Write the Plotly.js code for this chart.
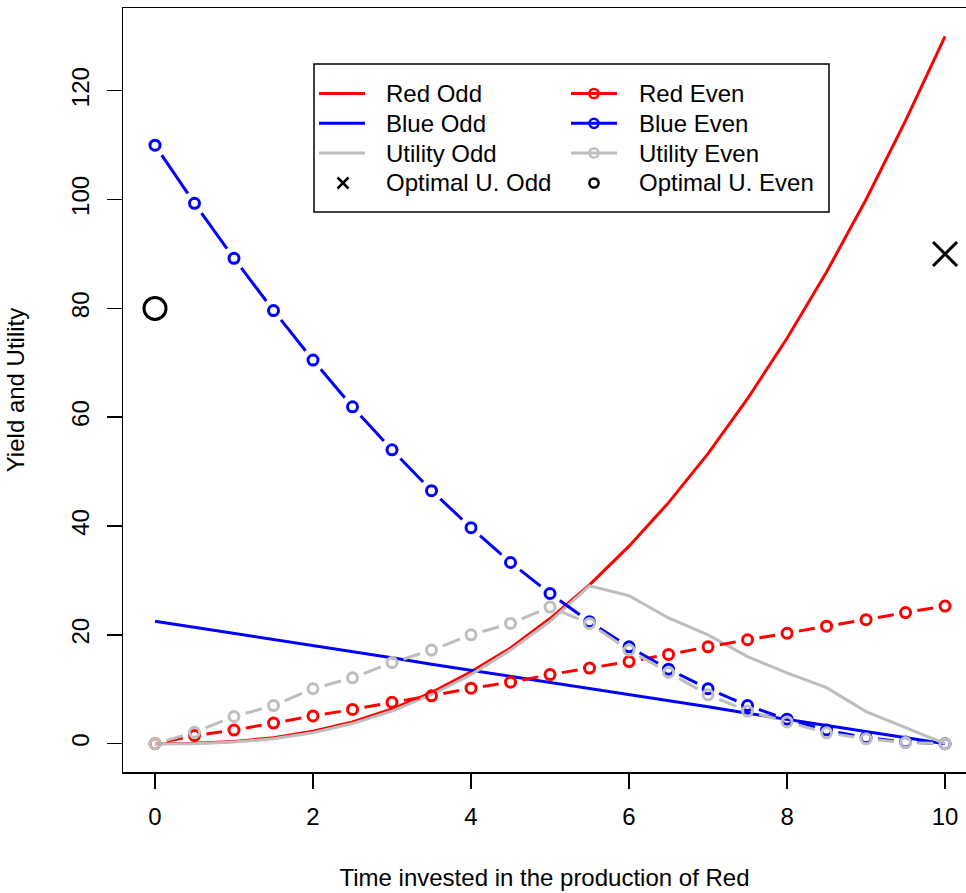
<!DOCTYPE html>
<html>
<head>
<meta charset="utf-8">
<script src="https://cdn.plot.ly/plotly-3.0.1.min.js"></script>
<style>
  html, body { margin: 0; padding: 0; background: #ffffff; overflow: hidden; }
  #chart { width: 966px; height: 893px; }
</style>
</head>
<body>
<div id="chart"></div>
<script>
// Time invested in Red (x), one value every half unit
const timeRed = [0, 0.5, 1, 1.5, 2, 2.5, 3, 3.5, 4, 4.5, 5, 5.5, 6, 6.5, 7, 7.5, 8, 8.5, 9, 9.5, 10];

// "Odd" scenario yields and utility
const redOdd     = [0, 0.1, 0.4, 1.1, 2.3, 4.0, 6.4, 9.4, 13.2, 17.6, 23.0, 29.2, 36.3, 44.3, 53.3, 63.4, 74.5, 86.7, 100.0, 114.5, 130.0];
const blueOdd    = [22.5, 21.4, 20.3, 19.1, 18.0, 16.9, 15.8, 14.6, 13.5, 12.4, 11.3, 10.1, 9.0, 7.9, 6.8, 5.6, 4.5, 3.4, 2.3, 1.1, 0];
const utilityOdd = [0, 0, 0.3, 0.9, 2.0, 3.7, 6.0, 9.0, 12.7, 17.2, 22.5, 29.0, 27.2, 23.1, 20.0, 16.0, 13.0, 10.3, 5.9, 3.0, 0];

// "Even" scenario yields and utility
const redEven     = [0, 1.5, 2.5, 3.8, 5.1, 6.3, 7.6, 8.8, 10.2, 11.3, 12.7, 13.9, 15.1, 16.4, 17.8, 19.1, 20.3, 21.6, 22.8, 24.1, 25.3];
const blueEven    = [110.0, 99.3, 89.2, 79.6, 70.5, 61.9, 54.0, 46.5, 39.7, 33.3, 27.6, 22.4, 17.8, 13.7, 10.1, 7.0, 4.5, 2.5, 1.1, 0.3, 0];
const utilityEven = [0, 2.1, 5.0, 7.0, 10.1, 12.1, 14.9, 17.2, 20.0, 22.1, 25.1, 22.1, 17.2, 13.1, 9.0, 6.0, 4.0, 2.0, 0.9, 0.2, 0];

// Optimal utility points
const optOddX = [10],  optOddY = [90];
const optEvenX = [0],  optEvenY = [80];

// Axis ticks
const xTicks = [0, 2, 4, 6, 8, 10];
const yTicks = [0, 20, 40, 60, 80, 100, 120];

// Legend entries (two columns)
const legendOdd  = ["Red Odd", "Blue Odd", "Utility Odd", "Optimal U. Odd"];
const legendEven = ["Red Even", "Blue Even", "Utility Even", "Optimal U. Even"];

// ---- geometry ----
const W = 966, H = 893;
const M = { l: 123, r: 0, t: 8, b: 121 };
const xRange = [-0.405, 10.265];
const yRange = [-5.2, 135.2];
const plotW = W - M.l - M.r, plotH = H - M.t - M.b;
const kx = plotW / (xRange[1] - xRange[0]);   // px per x unit
const ky = plotH / (yRange[1] - yRange[0]);   // px per y unit

const RED = "#FF0000", BLUE = "#0000FF", GREY = "#BEBEBE", BLACK = "#000000";
const FONT = "Liberation Sans, Arial, Helvetica, sans-serif";
const LW = 3;

// Line with a small gap around each point (points-and-lines style)
function gapped(xs, ys, gapPx) {
  const gx = [], gy = [];
  for (let i = 0; i < xs.length - 1; i++) {
    const dx = (xs[i + 1] - xs[i]) * kx, dy = (ys[i + 1] - ys[i]) * ky;
    const d = Math.hypot(dx, dy);
    if (d > 2 * gapPx) {
      const f = gapPx / d;
      gx.push(xs[i] + f * (xs[i + 1] - xs[i]), xs[i + 1] - f * (xs[i + 1] - xs[i]), null);
      gy.push(ys[i] + f * (ys[i + 1] - ys[i]), ys[i + 1] - f * (ys[i + 1] - ys[i]), null);
    }
  }
  return { x: gx, y: gy };
}

function solid(name, ys, color) {
  return { type: "scatter", mode: "lines", name: name, x: timeRed, y: ys,
           line: { color: color, width: LW }, hoverinfo: "skip" };
}
function pointsAndLines(name, ys, color) {
  const g = gapped(timeRed, ys, 12);
  return [
    { type: "scatter", mode: "lines", name: name, x: g.x, y: g.y, connectgaps: false,
      line: { color: color, width: LW }, hoverinfo: "skip" },
    { type: "scatter", mode: "markers", name: name, x: timeRed, y: ys,
      marker: { symbol: "circle-open", size: 10, color: color, line: { color: color, width: 3 } },
      hoverinfo: "skip" }
  ];
}

const traces = [
  solid("Red Odd", redOdd, RED),
  solid("Blue Odd", blueOdd, BLUE),
  solid("Utility Odd", utilityOdd, GREY),
  ...pointsAndLines("Red Even", redEven, RED),
  ...pointsAndLines("Blue Even", blueEven, BLUE),
  ...pointsAndLines("Utility Even", utilityEven, GREY),
  { type: "scatter", mode: "markers", name: "Optimal U. Odd", x: optOddX, y: optOddY,
    marker: { symbol: "x-thin-open", size: 24, color: BLACK, line: { color: BLACK, width: 3 } }, hoverinfo: "skip" },
  { type: "scatter", mode: "markers", name: "Optimal U. Even", x: optEvenX, y: optEvenY,
    marker: { symbol: "circle-open", size: 22, color: BLACK, line: { color: BLACK, width: 3 } }, hoverinfo: "skip" }
];

// ---- hand-built legend box (pixel layout -> paper coords) ----
const PX = v => (v - M.l) / plotW;
const PY = v => (H - M.b - v) / plotH;

const shapes = [];
const annotations = [];
const legBox = { x0: 314, y0: 64, x1: 829, y1: 212 };
shapes.push({ type: "rect", xref: "paper", yref: "paper",
  x0: PX(legBox.x0), x1: PX(legBox.x1), y0: PY(legBox.y1), y1: PY(legBox.y0),
  line: { color: BLACK, width: 1.5 }, fillcolor: "#ffffff", layer: "above" });

const rowY = [93.5, 123.3, 153.0, 183.0];
const colors = [RED, BLUE, GREY];
const col1 = { l0: 319, l1: 365, mk: 343, tx: 384 };
const col2 = { l0: 571, l1: 617, mk: 594, tx: 637 };

function hline(x0, x1, y, color, w) {
  shapes.push({ type: "line", xref: "paper", yref: "paper", layer: "above",
    x0: PX(x0), x1: PX(x1), y0: PY(y), y1: PY(y), line: { color: color, width: w } });
}
function ring(cx, cy, r, color, w) {
  shapes.push({ type: "circle", xref: "paper", yref: "paper", layer: "above",
    x0: PX(cx - r), x1: PX(cx + r), y0: PY(cy + r), y1: PY(cy - r), line: { color: color, width: w } });
}
function cross(cx, cy, h, color, w) {
  shapes.push({ type: "line", xref: "paper", yref: "paper", layer: "above",
    x0: PX(cx - h), x1: PX(cx + h), y0: PY(cy - h), y1: PY(cy + h), line: { color: color, width: w } });
  shapes.push({ type: "line", xref: "paper", yref: "paper", layer: "above",
    x0: PX(cx - h), x1: PX(cx + h), y0: PY(cy + h), y1: PY(cy - h), line: { color: color, width: w } });
}
function label(text, x, y) {
  annotations.push({ xref: "paper", yref: "paper", x: PX(x), y: PY(y), text: text,
    xanchor: "left", yanchor: "middle", showarrow: false, font: { family: FONT, size: 24, color: BLACK } });
}

for (let i = 0; i < 3; i++) {
  hline(col1.l0, col1.l1, rowY[i], colors[i], LW);
  hline(col2.l0, col2.l1, rowY[i], colors[i], LW);
  ring(col2.mk, rowY[i], 4.6, colors[i], 2.5);
}
cross(col1.mk, rowY[3], 5.5, BLACK, 2.5);
ring(col2.mk, rowY[3], 4.6, BLACK, 2.5);
for (let i = 0; i < 4; i++) {
  label(legendOdd[i], col1.tx, rowY[i]);
  label(legendEven[i], col2.tx, rowY[i]);
}

const layout = {
  width: W, height: H,
  margin: M,
  paper_bgcolor: "#ffffff", plot_bgcolor: "#ffffff",
  showlegend: false,
  font: { family: FONT, size: 24, color: BLACK },
  xaxis: {
    range: xRange, tickvals: xTicks, ticktext: xTicks.map(String),
    ticks: "outside", ticklen: 15, tickwidth: 1.5, tickcolor: BLACK,
    showline: true, linecolor: BLACK, linewidth: 1.5, mirror: true,
    showgrid: false, zeroline: false, automargin: false,
    tickfont: { family: FONT, size: 24, color: BLACK },
    ticklabelstandoff: 8,
    title: { text: "Time invested in the production of Red", standoff: 40,
             font: { family: FONT, size: 24, color: BLACK } }
  },
  yaxis: {
    range: yRange, tickvals: yTicks, ticktext: yTicks.map(String),
    ticks: "outside", ticklen: 15, tickwidth: 1.5, tickcolor: BLACK,
    showline: true, linecolor: BLACK, linewidth: 1.5, mirror: false,
    showgrid: false, zeroline: false, automargin: false,
    tickangle: -90,
    tickfont: { family: FONT, size: 24, color: BLACK },
    ticklabelstandoff: 8,
    title: { text: "Yield and Utility", standoff: 35,
             font: { family: FONT, size: 24, color: BLACK } }
  },
  shapes: shapes,
  annotations: annotations
};

Plotly.newPlot("chart", traces, layout, { displayModeBar: false, staticPlot: true });
</script>
</body>
</html>
